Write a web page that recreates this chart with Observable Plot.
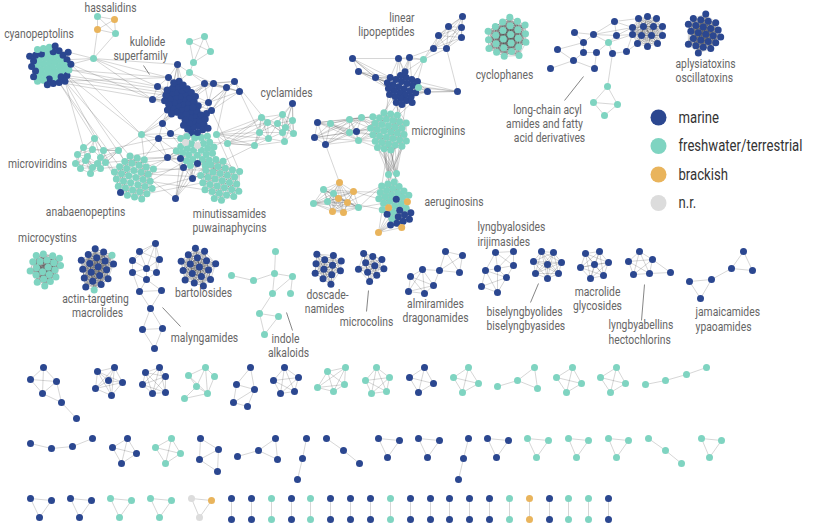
<!DOCTYPE html>
<html><head><meta charset="utf-8">
<script src="https://cdn.jsdelivr.net/npm/d3@7"></script>
<script src="https://cdn.jsdelivr.net/npm/@observablehq/plot@0.6"></script>
<style>
html,body{margin:0;padding:0;background:#fff;}
#chart{width:813px;height:526px;overflow:hidden;}
</style></head><body><div id="chart"></div>
<script>
// ---------- categories ----------
const habitats = ["marine","freshwater/terrestrial","brackish","n.r."];
const habitatCodes = ["m","f","b","n"];
const habitatColors = ["#2b4790","#7fd4c1","#e9b45c","#dcdcdc"];

// ---------- dense clusters (member counts by habitat, anchor in chart units) ----------
const blobSpecs = [
  {g:"cyano",  cx:50,  cy:65,  c:3.0, h:"f18m3f2m4f2m5f3m4f2m5"},
  {g:"kul",    cx:180, cy:100, c:2.8, h:"m36"},
  {g:"kul",    cx:194, cy:121, c:2.8, h:"m20"},
  {g:"kul",    cx:195, cy:150, c:3.2, h:"f26"},
  {g:"anab",   cx:133, cy:178, c:3.7, h:"f33"},
  {g:"minu",   cx:220, cy:180, c:3.7, h:"f31"},
  {g:"linlip", cx:404, cy:88,  c:3.0, h:"m28"},
  {g:"micg",   cx:388, cy:131, c:3.4, h:"f34"},
  {g:"aerug",  cx:392, cy:197, c:3.3, h:"f22"},
  {g:"aerug",  cx:399, cy:214, c:3.3, h:"m10b3"},
  {g:"cyclo",  cx:507, cy:37,  c:4.3, h:"f25"},
  {g:"aply",   cx:703, cy:33,  c:3.8, h:"m24"},
  {g:"mcys",   cx:45,  cy:268, c:3.6, h:"f21"},
  {g:"actin",  cx:96,  cy:268, c:4.5, h:"m18f2"},
  {g:"barto",  cx:197, cy:267, c:4.8, h:"m17"},
  {g:"dosca",  cx:327, cy:267, c:4.8, h:"m12"},
  {g:"mcol",   cx:371, cy:266, c:4.8, h:"m10"}
];

// peripheral members of dense clusters
const satellites = [
  {g:"kul", h:"mmmmmmmmmmmmmmmmmmmmmfnn",
   xs:[177,168,157,152,204,213,226,234,239,208,211,162,170,158,197,167,180,197,183,192,175,141,185,197],
   ys:[64,77,86,99,83,83,87,81,91,102,110,123,133,138,132,157,158,163,167,178,198,134,142,145]},
  {g:"anab", h:"m", xs:[120], ys:[192]},
  {g:"linlip", h:"mmmmmmmfmmmmmmmf",
   xs:[462,448,461,438,461,433,446,423,352,358,375,398,409,427,457,418],
   ys:[16,26,27,35,37,48,48,59,58,71,77,58,57,91,91,87]},
  {g:"micg", h:"mmmfffmffff",
   xs:[317,314,325,330,349,361,356,358,349,388,396],
   ys:[122,137,144,123,119,117,131,140,132,174,173]},
  {g:"aerug", h:"b", xs:[378], ys:[232]}
];

// small clusters: members and their edges
const smallClusters = [
  {g:"hass", h:"fbbff", xs:[97,114,97,115,93], ys:[16,19,29,33,58], e:"0-1 0-2 0-3 1-2 1-3 2-3 2-4 3-4"},
  {g:"topf", h:"f5", xs:[204,189,210,193,189], ys:[36,41,51,62,72], e:"0-1 0-2 1-2 1-3 2-3 0-3 3-4"},
  {g:"micv", h:"f16", xs:[94,83,92,103,77,87,100,75,85,97,105,80,92,90,100,118],
   ys:[138,147,149,150,154,156,157,163,160,163,162,168,167,173,168,150], e:"k6"},
  {g:"cycl", h:"f11mf3", xs:[261,267,282,292,277,285,293,259,268,282,284,292,254,227,216],
   ys:[117,122,114,120,123,127,133,132,138,132,141,103,145,143,134], e:"k6"},
  {g:"brack", h:"bffbbfbffbb", xs:[339,323,333,353,338,327,347,313,358,332,343],
   ys:[182,189,193,191,198,201,202,203,207,211,212], e:"K"},
  {g:"lc", h:"mmmmfmmmmmmmmmffffm14",
   xs:[614,574,593,616,608,583,557,583,596,612,626,573,550,594,607,593,617,604,638,647,656,632,643,653,662,632,641,651,662,637,647,657],
   ys:[21,32,34,35,42,42,49,52,52,53,51,60,68,68,86,102,104,115,18,16,18,27,26,26,26,34,35,35,35,43,46,43],
   e:"1-2 1-5 2-5 2-0 2-3 2-4 0-3 5-7 5-6 6-11 12-11 11-7 7-8 8-4 4-3 4-9 9-10 8-13 13-11 9-14 14-15 14-16 15-16 15-17 16-17 0-21 3-21 3-25 10-25 10-29 2-21 4-25 0-18 K18-31"},
  // second row
  {g:"malyn", h:"m14", xs:[155,139,159,132,146,156,132,146,139,161,150,142,162,154],
   ys:[243,251,259,260,268,272,272,279,291,290,308,329,328,348],
   e:"0-1 0-2 0-3 0-4 0-5 1-2 1-3 1-4 2-4 2-5 3-4 3-6 4-5 4-6 4-7 5-7 6-7 6-8 7-8 7-9 8-9 8-10 9-10 10-11 10-12 11-12 11-13 12-13"},
  {g:"indole", h:"f10", xs:[275,231,253,274,292,272,290,259,278,264], ys:[251,275,280,273,276,293,293,313,316,334],
   e:"0-3 1-2 2-3 3-4 3-5 4-5 4-6 5-7 7-8 7-9 8-9"},
  {g:"almir", h:"m9", xs:[410,422,439,445,462,459,433,408,424], ys:[276,269,270,251,255,272,285,291,293],
   e:"0-1 0-6 0-7 0-8 1-2 1-6 1-8 6-7 6-8 7-8 2-6 1-7 2-3 2-4 2-5 3-4 3-5 4-5"},
  {g:"lyngb", h:"m8", xs:[495,513,485,497,513,506,481,497], ys:[252,251,270,268,265,277,286,292],
   e:"0-1 0-2 0-3 0-4 1-3 1-4 2-3 2-5 2-6 2-7 3-4 3-5 3-7 4-5 5-6 5-7 6-7"},
  {g:"bisel", h:"m8", xs:[541,553,533,547,561,535,558,547], ys:[251,252,261,264,262,273,273,278], e:"K"},
  {g:"macgly", h:"m7", xs:[585,599,580,594,608,590,603], ys:[253,251,267,264,262,278,275], e:"K"},
  {g:"lbell", h:"m6", xs:[639,628,652,633,649,670], ys:[251,261,259,274,273,272],
   e:"0-1 0-2 0-3 0-4 1-2 1-3 1-4 2-3 2-4 3-4 2-5 4-5"},
  {g:"jamai", h:"m6", xs:[743,731,752,711,689,700], ys:[251,268,270,279,281,298], e:"0-1 0-2 1-2 1-3 3-4 3-5 4-5"},
  // third row
  {g:"r3a", h:"m6", xs:[43,30,56,42,61,76], ys:[367,379,381,393,402,418], e:"0-1 0-2 0-3 1-2 1-3 2-3 2-4 3-4 4-5"},
  {g:"r3b", h:"m6", xs:[97,114,108,122,95,111], ys:[371,367,380,382,388,395], e:"K"},
  {g:"r3c", h:"m6", xs:[145,159,165,142,152,165], ys:[372,367,376,384,393,392], e:"K"},
  {g:"r3d", h:"f6", xs:[188,205,214,196,184,207], ys:[375,367,376,386,398,393], e:"0-1 1-2 0-3 1-3 2-5 3-5 4-3 4-5 0-5 1-5"},
  {g:"r3e", h:"m5", xs:[250,236,254,233,247], ys:[367,384,389,402,406], e:"0-1 0-2 1-2 1-3 2-3 3-4 2-4"},
  {g:"r3f", h:"m5", xs:[284,273,298,280,294], ys:[367,380,377,393,391], e:"K"},
  {g:"r3g", h:"f5", xs:[345,327,344,317,333], ys:[367,371,384,387,391], e:"K"},
  {g:"r3h", h:"f5", xs:[376,389,365,371,386], ys:[367,377,380,393,391], e:"K"},
  {g:"r3i", h:"m4", xs:[424,409,433,418], ys:[367,377,383,392], e:"K"},
  {g:"r3j", h:"f4", xs:[468,453,478,462], ys:[367,377,383,392], e:"K"},
  {g:"r3k", h:"f4", xs:[497,517,534,537], ys:[386,380,367,388], e:"0-1 1-2 1-3 2-3"},
  {g:"r3l", h:"f4", xs:[572,556,581,566], ys:[367,377,383,392], e:"K"},
  {g:"r3m", h:"f4", xs:[616,600,625,610], ys:[367,377,383,392], e:"K"},
  {g:"r3n", h:"f4", xs:[645,665,686,706], ys:[384,380,374,367], e:"0-1 1-2 2-3"},
  // fourth row
  {g:"r4a", h:"m4", xs:[30,51,72,92], ys:[443,448,446,438], e:"0-1 1-2 2-3"},
  {g:"r4b", h:"m4", xs:[127,112,136,121], ys:[438,447,453,463], e:"K"},
  {g:"r4c", h:"f4", xs:[171,155,180,165], ys:[438,447,453,463], e:"K"},
  {g:"r4d", h:"m4", xs:[200,218,199,217], ys:[438,449,459,471], e:"0-1 0-2 1-2 1-3 2-3"},
  {g:"r4e", h:"m4", xs:[237,258,275,277], ys:[456,450,438,459], e:"0-1 1-2 1-3 2-3"},
  {g:"r4f", h:"m3", xs:[306,302,297], ys:[438,458,479], e:"0-1 1-2"},
  {g:"r4g", h:"m3", xs:[326,343,359], ys:[438,450,463], e:"0-1 1-2"},
  {g:"r4h", h:"m3", xs:[378,399,387], ys:[438,440,457], e:"K"},
  {g:"r4i", h:"m3", xs:[418,439,427], ys:[438,440,457], e:"K"},
  {g:"r4j", h:"m3", xs:[468,463,458], ys:[438,458,479], e:"0-1 1-2"},
  {g:"r4k", h:"m3", xs:[487,508,496], ys:[438,440,457], e:"K"},
  {g:"r4l", h:"f3", xs:[527,548,536], ys:[438,440,457], e:"K"},
  {g:"r4m", h:"f3", xs:[568,588,576], ys:[438,440,457], e:"K"},
  {g:"r4n", h:"f3", xs:[608,628,616], ys:[438,440,457], e:"K"},
  {g:"r4o", h:"f3", xs:[648,665,681], ys:[438,450,463], e:"0-1 1-2"},
  {g:"r4p", h:"f3", xs:[701,721,709], ys:[438,440,457], e:"K"},
  // fifth row triangles
  {g:"r5a", h:"m3", xs:[30,51,39], ys:[498,500,517], e:"K"},
  {g:"r5b", h:"m3", xs:[70,91,79], ys:[498,500,517], e:"K"},
  {g:"r5c", h:"f3", xs:[110,131,119], ys:[498,500,517], e:"K"},
  {g:"r5d", h:"f3", xs:[150,171,159], ys:[498,500,517], e:"K"},
  {g:"r5e", h:"nbn", xs:[191,211,199], ys:[498,500,517], e:"0-1 1-2 0-2"}
];

// fifth row: two-member clusters
const pairX = [231,251,271,291,310,330,350,370,390,410,430,449,469,489,509,529,549,568,588,608];
const pairH = "mmfmfmmmfmmmmmfbmffm";
const pairY = [498,519];

// within-cluster edge rule for dense clusters
const blobEdges = {cyano:7, kul:6, anab:8, minu:8, linlip:6, micg:8, aerug:8,
  cyclo:"K", aply:"K", mcys:"K", actin:"K", barto:"K", dosca:"K", mcol:"K"};

// links between clusters: [from, to, members used on each side, number of links]
const bundles = [
  ["hass","cyano",1,3,3], ["hass","kul",1,4,4], ["cyano","kul",6,8,10], ["cyano","anab",3,4,4],
  ["cyano","micv",2,2,2], ["topf","kul",1,4,4], ["kul","cycl",6,6,8], ["kul","anab",10,10,14],
  ["kul","minu",10,10,14], ["kul","micv",3,3,4], ["anab","micv",4,4,5], ["minu","cycl",3,3,3],
  ["anab","minu",5,5,6], ["linlip","micg",10,10,14], ["micg","aerug",10,10,18],
  ["brack","aerug",3,5,6], ["brack","micg",1,1,1]
];

// ---------- labels ----------
const labels = [
  ["hassalidins",110,7,"middle"], ["cyanopeptolins",38.5,33,"middle"],
  ["kulolide",147,41,"middle"], ["superfamily",140,55,"middle"],
  ["cyclamides",286,92,"middle"], ["microviridins",37,163,"middle"],
  ["anabaenopeptins",85,211,"middle"], ["minutissamides",229,213,"middle"], ["puwainaphycins",229,227,"middle"],
  ["linear",414,17,"end"], ["lipopeptides",414,31,"end"],
  ["cyclophanes",504,74,"middle"], ["microginins",411,130,"start"], ["aeruginosins",424,201,"start"],
  ["long-chain acyl",547,109,"middle"], ["amides and fatty",544,123,"middle"], ["acid derivatives",549,137,"middle"],
  ["aplysiatoxins",675,63,"start"], ["oscillatoxins",675,77,"start"],
  ["microcystins",47,237,"middle"], ["actin-targeting",95,298,"middle"], ["macrolides",97,312,"middle"],
  ["bartolosides",203,292,"middle"], ["malyngamides",204,337,"middle"],
  ["indole",285,338,"middle"], ["alkaloids",288,352,"middle"],
  ["doscade-",327,294,"middle"], ["namides",324,308,"middle"], ["microcolins",366,321,"middle"],
  ["lyngbyalosides",477,226,"start"], ["irijimasides",477,241,"start"],
  ["almiramides",435,303,"middle"], ["dragonamides",435,317,"middle"],
  ["biselyngbyolides",486,311,"start"], ["biselyngbyasides",486,325,"start"],
  ["macrolide",597,291,"middle"], ["glycosides",597,305,"middle"],
  ["lyngbyabellins",608,324,"start"], ["hectochlorins",608,339,"start"],
  ["jamaicamides",695,311,"start"], ["ypaoamides",695,326,"start"]
];
const leaders = [
  [143,65,149,74], [583,76,564,100], [162,307,180,326], [286,312,292,330],
  [368,290,366,311], [538,283,530,302], [644,284,641,320]
];
const legendLayout = {x:658, y0:117, dy:28.5, tx:678};

// ---------- build graph ----------
const HAB = Object.fromEntries(habitatCodes.map((c,i)=>[c,habitats[i]]));
function parseH(s){const out=[];for(const m of s.matchAll(/([mfbn])(\d*)/g)){const k=m[2]?+m[2]:1;for(let i=0;i<k;i++)out.push(m[1]);}return out;}
const nodes = [], groups = new Map();
function addNode(g, code, x, y){const n={id:nodes.length,g,hab:HAB[code],x,y};nodes.push(n);if(!groups.has(g))groups.set(g,[]);groups.get(g).push(n);return n;}
const links = [], linkSet = new Set();
function addLink(a,b){if(!a||!b||a===b)return;const k=a.id<b.id?a.id+"_"+b.id:b.id+"_"+a.id;if(linkSet.has(k))return;linkSet.add(k);links.push({x1:a.x,y1:a.y,x2:b.x,y2:b.y});}
const dist=(a,b)=>Math.hypot(a.x-b.x,a.y-b.y);
function knn(list,k){for(const a of list){const o=list.filter(b=>b!==a).sort((p,q)=>dist(a,p)-dist(a,q));for(let i=0;i<Math.min(k,o.length);i++)addLink(a,o[i]);}}
function complete(list,a=0,b=list.length-1){for(let i=a;i<=b;i++)for(let j=i+1;j<=b;j++)addLink(list[i],list[j]);}

// dense clusters laid out with d3-force
const specGroups = d3.group(blobSpecs, d=>d.g);
for (const [g, specs] of specGroups) {
  const sim = [];
  for (const s of specs) parseH(s.h).forEach((code,i)=>{
    const r=s.c*1.5*Math.sqrt(i+0.5), a=i*2.399963;
    sim.push({code,cx:s.cx,cy:s.cy,c:s.c,x:s.cx+r*Math.cos(a),y:s.cy+r*Math.sin(a)});
  });
  const sats = satellites.filter(s=>s.g===g);
  for (const s of sats) parseH(s.h).forEach((code,i)=>sim.push({code,fixed:true,fx:s.xs[i],fy:s.ys[i],x:s.xs[i],y:s.ys[i],cx:s.xs[i],cy:s.ys[i],c:3}));
  d3.forceSimulation(sim)
    .force("x", d3.forceX(d=>d.cx).strength(0.1))
    .force("y", d3.forceY(d=>d.cy).strength(0.1))
    .force("c", d3.forceCollide(d=>d.c).strength(1).iterations(4))
    .stop().tick(300);
  for (const d of sim) addNode(g, d.code, d.fixed?d.fx:d.x, d.fixed?d.fy:d.y);
  const mode = blobEdges[g];
  if (mode==="K") complete(groups.get(g)); else knn(groups.get(g), mode||5);
}
function applyEdges(list, e){
  if (/^k\d+$/.test(e)) { knn(list, +e.slice(1)); return; }
  for (const t of e.split(" ")) {
    if (t==="K") complete(list);
    else if (t[0]==="K") { const [a,b]=t.slice(1).split("-").map(Number); complete(list,a,b); }
    else { const [a,b]=t.split("-").map(Number); addLink(list[a],list[b]); }
  }
}
const clusters = smallClusters.concat(pairX.map((x,i)=>({g:"p"+i,h:pairH[i]+pairH[i],xs:[x,x],ys:pairY,e:"K"})));
for (const c of clusters) {
  const list = parseH(c.h).map((code,i)=>addNode(c.g, code, c.xs[i], c.ys[i]));
  applyEdges(list, c.e);
}
const centroid = L=>({x:d3.mean(L,d=>d.x), y:d3.mean(L,d=>d.y)});
for (const [ga,gb,na,nb,n] of bundles) {
  const A=groups.get(ga), B=groups.get(gb); const ca=centroid(A), cb=centroid(B);
  const As=A.slice().sort((p,q)=>dist(p,cb)-dist(q,cb)).slice(0,na);
  const Bs=B.slice().sort((p,q)=>dist(p,ca)-dist(q,ca)).slice(0,nb);
  for (let i=0;i<n;i++) addLink(As[i%As.length], Bs[(i*7+3)%Bs.length]);
}

const labelData = labels.map(([text,x,y,anchor])=>({text,x,y,anchor}));
const leaderData = leaders.map(([x1,y1,x2,y2])=>({x1,y1,x2,y2}));
const FONT = "Roboto,'Liberation Sans',sans-serif";
const textMarks = ["start","middle","end"].map(a=>Plot.text(labelData.filter(d=>d.anchor===a),
  {x:"x", y:"y", text:"text", textAnchor:a, fill:"#666", fontSize:12.6, fontFamily:FONT}));

const chart = Plot.plot({
  width: 813, height: 526, margin: 0,
  x: {domain:[0,813], range:[0,813], axis:null},
  y: {domain:[0,526], range:[0,526], axis:null},
  color: {domain: habitats, range: habitatColors},
  style: {background:"#fff", fontFamily: FONT},
  marks: [
    Plot.link(links, {x1:"x1", y1:"y1", x2:"x2", y2:"y2", stroke:"#555", strokeOpacity:0.3, strokeWidth:0.8}),
    Plot.link(leaderData, {x1:"x1", y1:"y1", x2:"x2", y2:"y2", stroke:"#777", strokeWidth:0.9}),
    Plot.dot(nodes, {x:"x", y:"y", r:3.5, fill:"hab"}),
    ...textMarks,
    Plot.dot(habitats, {x:()=>legendLayout.x, y:(d,i)=>legendLayout.y0+i*legendLayout.dy, r:8, fill:d=>d}),
    Plot.text(habitats, {x:()=>legendLayout.tx, y:(d,i)=>legendLayout.y0+i*legendLayout.dy, text:d=>d,
      textAnchor:"start", fill:"#333", fontSize:16, fontFamily:FONT})
  ]
});
document.getElementById("chart").appendChild(chart);
// the reference uses a condensed face: narrow the glyphs of every text
chart.querySelectorAll("text").forEach(t => {
  const w = t.getComputedTextLength();
  if (w > 0) { t.setAttribute("textLength", (w*0.82).toFixed(1)); t.setAttribute("lengthAdjust", "spacingAndGlyphs"); }
});
</script></body></html>
